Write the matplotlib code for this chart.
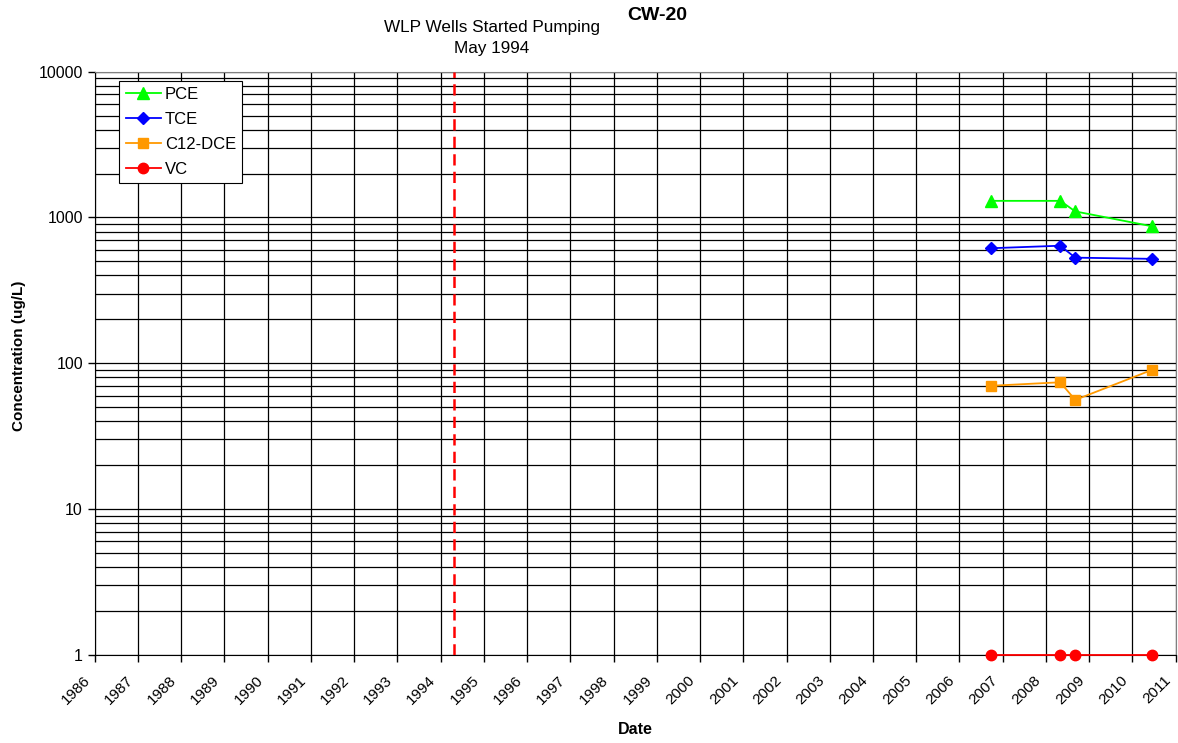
import matplotlib
matplotlib.use("Agg")
import matplotlib.pyplot as plt
import matplotlib.dates as mdates
import matplotlib.transforms as mtransforms
from matplotlib.ticker import LogLocator, FixedLocator, FuncFormatter, NullFormatter
import datetime as dt

plt.rcParams['font.family'] = ['Liberation Sans', 'DejaVu Sans']

# ---- data ----
sample_dates = ['2006-09-25', '2008-05-01', '2008-09-05', '2010-06-15']
pce = [1300, 1300, 1100, 870]
tce = [615, 640, 530, 520]
dce = [70, 74, 56, 90]
vc = [1, 1, 1, 1]
series_names = ['PCE', 'TCE', 'C12-DCE', 'VC']
pumping_date = '1994-04-25'
year_ticks = list(range(1986, 2012))
y_ticks = [1, 10, 100, 1000, 10000]

dates = [dt.datetime.strptime(d, '%Y-%m-%d') for d in sample_dates]

fig = plt.figure(figsize=(11.78, 7.43), dpi=100)
ax = fig.add_axes([0.0804, 0.1188, 0.9176, 0.7847])

ax.set_yscale('log')
ax.set_ylim(1, 10000)
ax.set_xlim(dt.datetime(1986, 1, 1), dt.datetime(2011, 1, 1))

# grid / ticks
ax.yaxis.set_major_locator(FixedLocator(y_ticks))
ax.yaxis.set_major_formatter(FuncFormatter(lambda v, p: f'{int(round(v))}'))
ax.yaxis.set_minor_locator(LogLocator(base=10, subs=range(2, 10)))
ax.yaxis.set_minor_formatter(NullFormatter())
tick_dates = [dt.datetime(y, 1, 1) for y in year_ticks]
ax.xaxis.set_major_locator(FixedLocator([mdates.date2num(d) for d in tick_dates]))
ax.tick_params(axis='x', labelbottom=False)

# year labels, rotated, placed just left/below each tick like the original
lbl_trans = ax.get_xaxis_transform() + mtransforms.ScaledTranslation(-12 / 100, -18.5 / 100, fig.dpi_scale_trans)
for d, y in zip(tick_dates, year_ticks):
    ax.text(d, 0, str(y), transform=lbl_trans, rotation=45, ha='right', va='top',
            rotation_mode='anchor', fontsize=11, clip_on=False)

ax.grid(True, which='major', axis='both', color='black', linewidth=0.9)
ax.grid(True, which='minor', axis='y', color='black', linewidth=0.9)
ax.set_axisbelow(True)
ax.tick_params(axis='both', which='major', direction='out', length=5, width=1, color='black')
ax.tick_params(axis='y', which='minor', length=0)
ax.tick_params(axis='y', labelsize=11.5)
for s in ['top', 'right']:
    ax.spines[s].set_color('#808080')
for s in ['left', 'bottom']:
    ax.spines[s].set_color('black')

pd_ = dt.datetime.strptime(pumping_date, '%Y-%m-%d')
ax.axvline(pd_, color='#FF0000', linestyle=(0, (4.5, 2.5)), linewidth=1.8, zorder=3)

ax.plot(dates, pce, color='#00FF00', marker='^', markersize=8, linewidth=1.3, label=series_names[0], zorder=4, clip_on=False)
ax.plot(dates, tce, color='#0000FF', marker='D', markersize=6.5, linewidth=1.3, label=series_names[1], zorder=4, clip_on=False)
ax.plot(dates, dce, color='#FF9900', marker='s', markersize=7.5, linewidth=1.3, label=series_names[2], zorder=4, clip_on=False)
ax.plot(dates, vc, color='#FF0000', marker='o', markersize=7.5, linewidth=1.3, label=series_names[3], zorder=4, clip_on=False)

leg = ax.legend(loc='upper left', bbox_to_anchor=(0.0228, 0.9846), borderaxespad=0,
                fontsize=12, frameon=True, fancybox=False, framealpha=1,
                edgecolor='black', handlelength=2.1, handletextpad=0.25,
                labelspacing=0.6, borderpad=0.38)
leg.get_frame().set_linewidth(0.8)

ax.set_xlabel('Date', fontsize=11.5, fontweight='bold')
ax.xaxis.set_label_coords(0.5, -(722 - 654.7) / 583)
ax.xaxis.label.set_va('top')
ax.set_ylabel('Concentration (ug/L)', fontsize=11, fontweight='bold')
ax.yaxis.set_label_coords((26 - 94.7) / 1081, (654.7 - 356) / 583)

fig.text(657 / 1178, 1 - 15 / 743, 'CW-20', fontsize=14, fontweight='bold', ha='center', va='center')
fig.text(492 / 1178, 1 - 38 / 743, 'WLP Wells Started Pumping\nMay 1994', fontsize=12.3,
         ha='center', va='center', linespacing=1.45)

fig.savefig('out.png', dpi=100)
